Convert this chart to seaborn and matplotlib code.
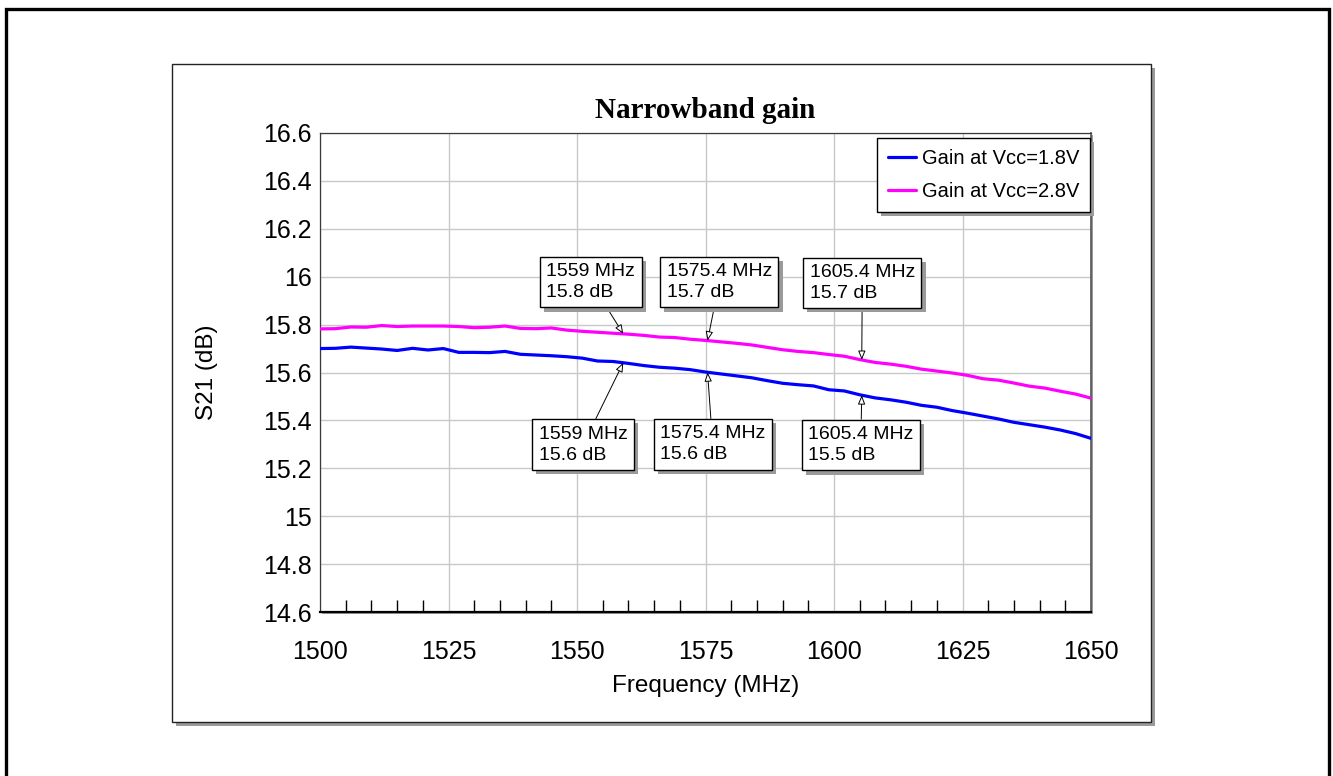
import numpy as np
import pandas as pd
import matplotlib
matplotlib.use("Agg")
import matplotlib.pyplot as plt
import matplotlib.patheffects as pe
from matplotlib.patches import Rectangle
from matplotlib.ticker import MultipleLocator, FixedLocator
import seaborn as sns

# ---- measured data -------------------------------------------------------
freq_mhz = [
    1500, 1503, 1506, 1509, 1512, 1515, 1518, 1521, 1524, 1527,
    1530, 1533, 1536, 1539, 1542, 1545, 1548, 1551, 1554, 1557,
    1560, 1563, 1566, 1569, 1572, 1575, 1578, 1581, 1584, 1587,
    1590, 1593, 1596, 1599, 1602, 1605, 1608, 1611, 1614, 1617,
    1620, 1623, 1626, 1629, 1632, 1635, 1638, 1641, 1644, 1647,
    1650,
]
gain_vcc_1v8 = [
    15.700, 15.701, 15.706, 15.702, 15.698, 15.692, 15.701, 15.694, 15.700, 15.684,
    15.684, 15.683, 15.688, 15.676, 15.673, 15.670, 15.666, 15.660, 15.648, 15.646,
    15.638, 15.629, 15.622, 15.618, 15.612, 15.602, 15.594, 15.586, 15.578, 15.566,
    15.555, 15.549, 15.544, 15.528, 15.523, 15.507, 15.494, 15.486, 15.476, 15.463,
    15.455, 15.441, 15.430, 15.418, 15.406, 15.392, 15.382, 15.372, 15.360, 15.345,
    15.325,
]
gain_vcc_2v8 = [
    15.782, 15.783, 15.790, 15.789, 15.796, 15.792, 15.794, 15.794, 15.794, 15.792,
    15.787, 15.789, 15.794, 15.784, 15.783, 15.786, 15.777, 15.772, 15.768, 15.764,
    15.760, 15.755, 15.748, 15.746, 15.739, 15.734, 15.728, 15.722, 15.715, 15.705,
    15.695, 15.688, 15.683, 15.675, 15.668, 15.654, 15.642, 15.635, 15.626, 15.614,
    15.606, 15.598, 15.588, 15.574, 15.568, 15.556, 15.543, 15.535, 15.522, 15.510,
    15.493,
]
series_names = ["Gain at Vcc=1.8V", "Gain at Vcc=2.8V"]
series_colors = ["#0000ff", "#ff00ff"]
marker_freqs = [1559, 1575.4, 1605.4]
y_ticks = [14.6, 14.8, 15.0, 15.2, 15.4, 15.6, 15.8, 16.0, 16.2, 16.4, 16.6]
y_tick_labels = ["14.6", "14.8", "15", "15.2", "15.4", "15.6", "15.8", "16", "16.2", "16.4", "16.6"]
x_ticks = [1500, 1525, 1550, 1575, 1600, 1625, 1650]

df = pd.concat([
    pd.DataFrame({"freq": freq_mhz, "gain": gain_vcc_1v8, "series": series_names[0]}),
    pd.DataFrame({"freq": freq_mhz, "gain": gain_vcc_2v8, "series": series_names[1]}),
], ignore_index=True)

# ---- style ---------------------------------------------------------------
sns.set_style("white")
plt.rcParams["font.family"] = ["Liberation Sans", "DejaVu Sans"]
plt.rcParams["text.color"] = "black"
plt.rcParams["axes.labelcolor"] = "black"

W, H = 1333, 776
fig = plt.figure(figsize=(W / 100, H / 100), dpi=100)


def px_rect(x0, y0, x1, y1):
    """Figure-fraction rectangle from top-left pixel corners."""
    return (x0 / W, 1 - y1 / H, (x1 - x0) / W, (y1 - y0) / H)


shadow = [pe.SimplePatchShadow(offset=(3, -3), shadow_rgbFace="#9a9a9a", alpha=1.0), pe.Normal()]

# outer page border
bx, by, bw, bh = px_rect(6, 9, 1329, 800)
fig.patches.append(Rectangle((bx, by), bw, bh, transform=fig.transFigure,
                             fill=False, ec="black", lw=2.4, zorder=-2))
# chart frame with drop shadow
cx, cy, cw, ch = px_rect(172, 64, 1151, 722)
frame = Rectangle((cx, cy), cw, ch, transform=fig.transFigure,
                  fc="white", ec="#222222", lw=1.0, zorder=-1)
frame.set_path_effects(shadow)
fig.patches.append(frame)

ax = fig.add_axes(px_rect(320, 133, 1091, 612))
ax.patch.set_path_effects([pe.SimplePatchShadow(offset=(1.5, -1.5), shadow_rgbFace="#9a9a9a", alpha=1.0), pe.Normal()])

sns.lineplot(data=df, x="freq", y="gain", hue="series", palette=series_colors,
             estimator=None, linewidth=2.3, ax=ax, zorder=3)

ax.set_xlim(1500, 1650)
ax.set_ylim(14.6, 16.6)
ax.xaxis.set_major_locator(FixedLocator(x_ticks))
ax.xaxis.set_minor_locator(MultipleLocator(5))
ax.set_yticks(y_ticks)
ax.set_yticklabels(y_tick_labels)
ax.tick_params(axis="both", which="major", length=0, labelsize=18, colors="black")
ax.tick_params(axis="x", which="major", pad=20)
ax.tick_params(axis="y", which="major", pad=6)
ax.tick_params(axis="x", which="minor", direction="in", length=8.5, width=1, color="black", bottom=True)
ax.grid(True, which="major", color="#c8c8c8", lw=1.0)
ax.set_axisbelow(True)

for side in ("left", "top"):
    ax.spines[side].set_color("#3a3a3a")
    ax.spines[side].set_linewidth(0.9)
ax.spines["right"].set_color("#555555")
ax.spines["right"].set_linewidth(1.2)
ax.spines["bottom"].set_color("black")
ax.spines["bottom"].set_linewidth(1.6)

ax.set_xlabel("Frequency (MHz)", fontsize=17.5, labelpad=8)
ax.set_ylabel("S21 (dB)", fontsize=17.5, labelpad=32)

fig.text((320 + 1091) / 2 / W, 1 - 111 / H, "Narrowband gain", ha="center", va="center",
         fontsize=21, fontweight="bold", family=["Liberation Serif", "DejaVu Serif"])

# legend
handles, labels = ax.get_legend_handles_labels()
leg = ax.legend(handles, labels, loc="upper right",
                bbox_to_anchor=((1090 - 320) / 771, (612 - 138) / 479),
                borderaxespad=0, fontsize=14.5, frameon=True, fancybox=False,
                edgecolor="black", framealpha=1, labelspacing=0.7, borderpad=0.55,
                handlelength=1.35, handletextpad=0.3)
leg.get_frame().set_linewidth(1.0)
leg.get_frame().set_path_effects(shadow)
for line in leg.get_lines():
    line.set_linewidth(2.3)

# value markers
box_centers_top = [(1552.7, 15.978), (1577.7, 15.978), (1605.5, 15.974)]
box_centers_bot = [(1551.2, 15.299), (1576.4, 15.300), (1605.2, 15.297)]
for gains, centers in ((gain_vcc_2v8, box_centers_top), (gain_vcc_1v8, box_centers_bot)):
    for f, (tx, ty) in zip(marker_freqs, centers):
        g = float(np.interp(f, freq_mhz, gains))
        ann = ax.annotate(f"{f:g} MHz\n{g:.1f} dB", xy=(f, g), xytext=(tx, ty),
                          ha="center", va="center", multialignment="left", fontsize=14,
                          linespacing=1.3,
                          bbox=dict(boxstyle="square,pad=0.33", fc="white", ec="black", lw=1.0),
                          arrowprops=dict(arrowstyle="-|>,head_length=0.5,head_width=0.2",
                                          fc="white", ec="black", lw=0.7, mutation_scale=11,
                                          shrinkA=0, shrinkB=0),
                          zorder=5)
        ann.get_bbox_patch().set_path_effects(shadow)

fig.savefig("out.png", dpi=100)
